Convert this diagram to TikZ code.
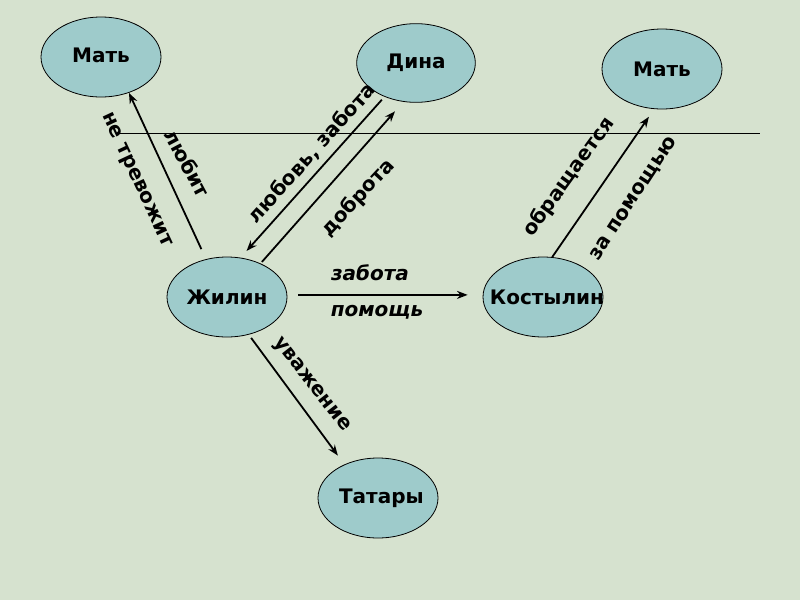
\documentclass[tikz,border=0pt]{standalone}
\usepackage{fontspec}
\setmainfont{DejaVu Sans}
\usetikzlibrary{shapes.geometric,arrows.meta}
\definecolor{bgc}{RGB}{214,226,207}
\definecolor{ellc}{RGB}{158,203,203}
\tikzset{
  ell/.style={ellipse,draw=black,line width=0.6pt,fill=ellc,minimum width=90pt,minimum height=60pt,inner sep=0pt,font=\bfseries\fontsize{15pt}{18pt}\selectfont},
  ellw/.style={ell,minimum width=89pt,minimum height=59pt},
  arr/.style={line width=1.35pt,-{Stealth[length=8pt,width=6pt]}},
  lbl/.style={inner sep=0pt,font=\bfseries\fontsize{15pt}{18pt}\selectfont},
  ilbl/.style={lbl,font=\bfseries\itshape\fontsize{15pt}{18pt}\selectfont}
}
\begin{document}
\begin{tikzpicture}[x=0.75pt,y=-0.75pt]
\fill[bgc] (0,0) rectangle (800,600);
\useasboundingbox (0,0) rectangle (800,600);
% horizontal line
\draw[line width=0.75pt] (118,133) -- (760,133);
% nodes
\node[ell] (mat1) at (101,57) {\raisebox{3pt}{\makebox[0pt]{Мать}}};
\node[ellw] (dina) at (416,63) {\raisebox{2pt}{\makebox[0pt]{Дина}}};
\node[ell] (mat2) at (662,69) {\makebox[0pt]{Мать}};
\node[ell] (zhilin) at (227,297) {\makebox[0pt]{Жилин}};
\node[ell] (kost) at (543,297) {\makebox[0pt]{\hspace{6pt}Костылин}};
\node[ell] (tatary) at (378,498) {\makebox[0pt]{\hspace{5pt}Татары}};
% connectors
\draw[arr,shorten <=8.25pt] (zhilin.119.9) -- (mat1.-52.1);
\draw[arr,shorten <=3pt,shorten >=6.75pt] (dina.-133.4) -- (zhilin.71.6);
\draw[arr,shorten <=1.5pt,shorten >=9.5pt] (zhilin.45) -- (dina.-108.8);
\draw[arr,shorten <=8.25pt,shorten >=11.25pt] (zhilin.2) -- (kost.178);
\draw[arr,shorten >=7pt] (kost.77.3) -- (mat2.-101.5);
\draw[arr,shorten <=3pt,shorten >=8.25pt] (zhilin.-60.7) -- (tatary.135);
% labels
\node[lbl,rotate=-65] (l1) at (136,180) {не тревожит};
\node[lbl,rotate=-62] (l2) at (188,163) {любит};
\node[lbl,rotate=48] (l3) at (312,153) {любовь, забота};
\node[lbl,rotate=47] (l4) at (358,198) {доброта};
\node[ilbl] (l5) at (370,273) {забота};
\node[ilbl] (l6) at (377,312) {помощь};
\node[lbl,rotate=54] (l7) at (569,177) {обращается};
\node[lbl,rotate=57] (l8) at (634,199) {за помощью};
\node[lbl,rotate=-52] (l9) at (311,385) {уважение};
\end{tikzpicture}
\end{document}
